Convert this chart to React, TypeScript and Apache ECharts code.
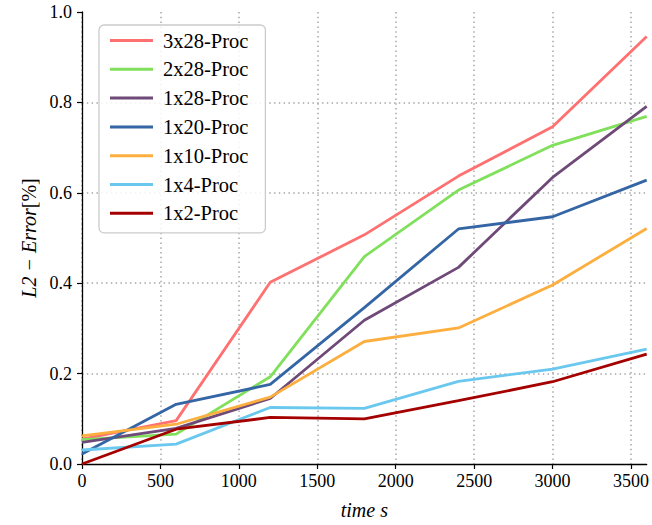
import React, { useEffect, useRef } from "react";
import * as echarts from "echarts";

const times = [0, 600, 1200, 1800, 2400, 3000, 3600];
const seriesNames = ["3x28-Proc", "2x28-Proc", "1x28-Proc", "1x20-Proc", "1x10-Proc", "1x4-Proc", "1x2-Proc"];
const p3x28 = [0.055, 0.096, 0.402, 0.507, 0.637, 0.746, 0.946];
const p2x28 = [0.054, 0.066, 0.193, 0.459, 0.606, 0.705, 0.769];
const p1x28 = [0.048, 0.079, 0.145, 0.318, 0.435, 0.634, 0.791];
const p1x20 = [0.022, 0.132, 0.176, 0.346, 0.52, 0.547, 0.628];
const p1x10 = [0.062, 0.088, 0.148, 0.271, 0.301, 0.396, 0.521];
const p1x4 = [0.031, 0.044, 0.125, 0.123, 0.183, 0.21, 0.254];
const p1x2 = [0.0, 0.077, 0.103, 0.1, 0.14, 0.182, 0.243];
const allValues = [p3x28, p2x28, p1x28, p1x20, p1x10, p1x4, p1x2];
const colors = ["#ff7070", "#80e05c", "#6f4a78", "#3465a4", "#fcae3e", "#6ac8ee", "#a40000"];

const FONT = "'Liberation Serif', 'DejaVu Serif', serif";

export default function App() {
  const ref = useRef<HTMLDivElement>(null);
  useEffect(() => {
    if (!ref.current) return;
    const chart = echarts.init(ref.current, null, { renderer: "svg" });
    chart.setOption({
      animation: false,
      backgroundColor: "#ffffff",
      grid: { left: 82, right: 0, top: 12, bottom: 59, containLabel: false },
      legend: {
        left: 99,
        top: 25,
        orient: "vertical",
        data: seriesNames,
        icon: "rect",
        itemWidth: 43,
        itemHeight: 3,
        itemGap: 7.8,
        padding: [5, 17, 9, 11],
        backgroundColor: "rgba(255,255,255,0.85)",
        borderColor: "#cccccc",
        borderWidth: 1.3,
        borderRadius: 5,
        textStyle: { fontFamily: FONT, fontSize: 20.5, color: "#000", lineHeight: 20, padding: [0, 0, 0, 5] },
      },
      xAxis: {
        type: "value",
        min: 0,
        max: 3600,
        interval: 500,
        name: "time s",
        nameLocation: "middle",
        nameGap: 36,
        nameTextStyle: { fontFamily: FONT, fontSize: 20, fontStyle: "italic", color: "#000" },
        axisLine: { show: true, lineStyle: { color: "#000", width: 1.3 } },
        axisTick: { show: true, length: 5, inside: false, lineStyle: { color: "#000", width: 1.2 } },
        axisLabel: {
          fontFamily: FONT,
          fontSize: 18,
          color: "#000",
          margin: 8,
          showMaxLabel: false,
          formatter: (v: number) => String(v),
        },
        splitLine: { show: true, showMaxLine: false, lineStyle: { color: "#a8a8a8", width: 1.5, type: [1.5, 3.3] } },
      },
      yAxis: {
        type: "value",
        min: 0,
        max: 1,
        interval: 0.2,
        name: "{i|L2 − Error}{n|[%]}",
        nameLocation: "middle",
        nameRotate: 90,
        nameGap: 40,
        nameTextStyle: {
          fontFamily: FONT,
          fontSize: 20,
          color: "#000",
          rich: {
            i: { fontFamily: FONT, fontSize: 20, fontStyle: "italic", color: "#000" },
            n: { fontFamily: FONT, fontSize: 20, color: "#000" },
          },
        },
        axisLine: { show: true, lineStyle: { color: "#000", width: 1.3 } },
        axisTick: { show: true, length: 5, inside: false, lineStyle: { color: "#000", width: 1.2 } },
        axisLabel: {
          fontFamily: FONT,
          fontSize: 18,
          color: "#000",
          margin: 10,
          formatter: (v: number) => v.toFixed(1),
        },
        splitLine: { show: true, showMaxLine: false, showMinLine: false, lineStyle: { color: "#a8a8a8", width: 1.5, type: [1.5, 3.3] } },
      },
      series: seriesNames.map((name, i) => ({
        name,
        type: "line",
        data: times.map((t, j) => [t, allValues[i][j]]),
        showSymbol: false,
        symbol: "none",
        lineStyle: { color: colors[i], width: 2.8 },
        itemStyle: { color: colors[i] },
        z: 2 + i,
      })),
    });
    return () => chart.dispose();
  }, []);
  return <div ref={ref} style={{ width: 652, height: 525, position: "absolute", left: 0, top: 0 }} />;
}
